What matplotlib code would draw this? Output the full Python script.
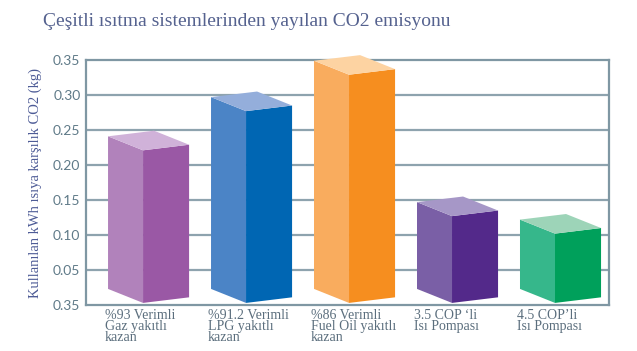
import matplotlib.pyplot as plt
from matplotlib.patches import Polygon

# data
categories = ['%93 Verimli\nGaz yakıtlı\nkazan',
              '%91.2 Verimli\nLPG yakıtlı\nkazan',
              '%86 Verimli\nFuel Oil yakıtlı\nkazan',
              '3.5 COP \u2018li\nIsı Pompası',
              '4.5 COP\u2019li\nIsı Pompası']
values = [0.221, 0.277, 0.329, 0.127, 0.102]
yticks = [0.0, 0.05, 0.10, 0.15, 0.20, 0.25, 0.30, 0.35]
ytick_labels = ['0.35', '0.05', '0.10', '0.15', '0.20', '0.25', '0.30', '0.35']

left_cols = ['#b182bb', '#4b84c6', '#f9ac5e', '#7a5fa6', '#36b78b']
right_cols = ['#9a58a5', '#0066b3', '#f68e1f', '#53298a', '#00a05b']
top_cols = ['#d0b2d9', '#94aedb', '#fdd3a2', '#a697c7', '#9dd4b8']

# box shape (pseudo 3d)
wl, wr = 0.34, 0.447      # left / right face widths
drop, rise = 0.020, 0.008  # slope of top and bottom edges
base = 0.003

frame = '#7f97a3'
serif = ['Liberation Serif', 'DejaVu Serif']

fig = plt.figure(figsize=(6.37, 3.51), dpi=100)
ax = fig.add_axes([0.135, 0.131, 0.821, 0.698])
ax.set_xlim(-0.214, 4.864)
ax.set_ylim(0, 0.35)

for y in yticks[1:-1]:
    ax.axhline(y, color='#8ea3ae', lw=1.6, zorder=0)
for s in ax.spines.values():
    s.set_color(frame)
    s.set_linewidth(1.6)

for i, v in enumerate(values):
    xl, xf, xr = i, i + wl, i + wl + wr
    lf = [(xl, base + drop), (xl, v + drop), (xf, v), (xf, base)]
    rf = [(xf, base), (xf, v), (xr, v + rise), (xr, base + rise)]
    tp = [(xl, v + drop), (xl + wr, v + drop + rise), (xr, v + rise), (xf, v)]
    for pts, c in [(lf, left_cols[i]), (rf, right_cols[i]), (tp, top_cols[i])]:
        ax.add_patch(Polygon(pts, closed=True, fc=c, ec='none', zorder=3,
                             clip_on=False))
    ax.text(i - 0.03, -0.006, categories[i], ha='left', va='top',
            fontsize=10, family=serif, color='#5b6e7d', linespacing=0.8,
            clip_on=False)

ax.set_xticks([])
ax.set_yticks(yticks)
ax.set_yticklabels(ytick_labels, family='Lato', fontsize=10, color='#5f7a88')
ax.tick_params(axis='y', length=0, pad=4)

ax.set_ylabel('Kullanılan kWh ısıya karşılık CO2 (kg)', family=serif,
              fontsize=10.5, color='#4d5b96', labelpad=8)
fig.text(0.068, 0.94, 'Çeşitli ısıtma sistemlerinden yayılan CO2 emisyonu',
         family=serif, fontsize=14, color='#55628f', va='center')

fig.savefig('out.png', dpi=100)
